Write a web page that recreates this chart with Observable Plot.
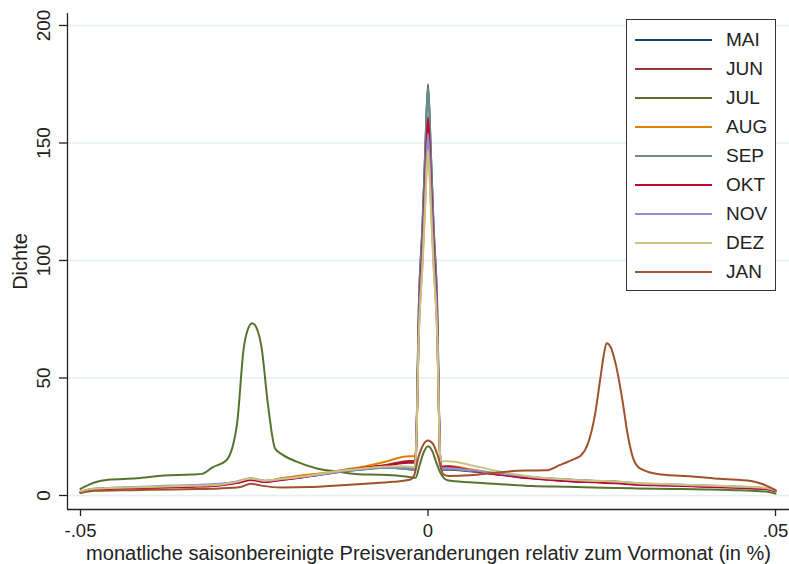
<!DOCTYPE html>
<html><head><meta charset="utf-8">
<script src="https://cdn.jsdelivr.net/npm/d3@7"></script>
<script src="https://cdn.jsdelivr.net/npm/@observablehq/plot@0.6"></script>
<style>
body{margin:0;background:#fff;font-family:"Liberation Sans",Arial,sans-serif}
#wrap{position:relative;width:789px;height:564px}
#legend{position:absolute;left:626px;top:19px;width:150px;height:272px;border:1px solid #333;background:#fff;box-sizing:border-box}
.row{position:absolute;left:0;height:0}
.row .sw{position:absolute;left:8px;width:77px;height:0;border-top:2px solid;top:-1px}
.row .lb{position:absolute;left:99px;font-size:19px;line-height:20px;top:-10px;color:#222;white-space:nowrap}
</style></head><body><div id="wrap"><div id="legend"></div></div>
<script>
// ---- data ----
const MONTHS = ["MAI","JUN","JUL","AUG","SEP","OKT","NOV","DEZ","JAN"];
const COLORS = ["#1a476f","#90353b","#55752f","#e37e00","#6e8e84","#c10534","#938dd2","#cac27e","#a0522d"];

const X_TICKS = [-0.05, 0, 0.05];
const X_TICK_LABELS = ["-.05", "0", ".05"];
const Y_TICKS = [0, 50, 100, 150, 200];
const X_DOMAIN = [-0.05187, 0.05201];
const Y_DOMAIN = [-5.96, 205.1];

const X_MAIN = [-0.05, -0.0485, -0.046, -0.042, -0.038, -0.034, -0.030, -0.0275, -0.0255, -0.0235, -0.021, -0.018, -0.015, -0.012, -0.009, -0.006, -0.0035, -0.0019,
  -0.00175, -0.0013, -0.0008, -0.0004, 0, 0.0004, 0.0008, 0.0013, 0.00175,
  0.0019, 0.003, 0.006, 0.009, 0.012, 0.015, 0.018, 0.021, 0.024, 0.027, 0.030, 0.034, 0.038, 0.042, 0.046, 0.049, 0.05];

const MAI_Y = [1.5, 2.6, 3.0, 3.3, 3.6, 3.9, 4.5, 5.6, 7.0, 6.0, 6.8, 7.8, 9.0, 10.3, 11.2, 11.8, 11.5, 11.0,
  16, 83, 115, 147, 175, 147, 115, 83, 16,
  11.0, 11.0, 10.3, 9.4, 8.5, 7.6, 7.0, 6.5, 6.1, 5.8, 5.0, 4.6, 4.2, 3.8, 3.4, 2.8, 1.9];
const JUN_Y = [1.4, 2.5, 2.9, 3.2, 3.5, 3.8, 4.4, 5.5, 6.8, 5.9, 6.9, 8.0, 9.3, 10.8, 12.0, 13.0, 14.5, 14.8,
  18, 74, 103, 132, 157, 132, 103, 74, 16,
  11.5, 11.5, 10.5, 9.3, 8.2, 7.2, 6.5, 6.0, 5.8, 5.5, 4.8, 4.4, 4.0, 3.6, 3.2, 2.6, 1.8];
const AUG_Y = [1.6, 2.7, 3.1, 3.4, 3.7, 4.0, 4.6, 5.8, 7.2, 6.2, 7.4, 8.6, 9.6, 11.0, 12.5, 14.5, 16.5, 16.8,
  19, 71, 99, 126, 150, 126, 99, 71, 16,
  12.0, 12.5, 11.2, 9.8, 8.6, 7.5, 6.8, 6.2, 5.8, 5.6, 5.0, 4.5, 4.1, 3.7, 3.3, 2.7, 1.9];
const SEP_Y = [1.5, 2.6, 3.1, 3.4, 3.7, 4.0, 4.5, 5.7, 7.1, 6.1, 6.9, 7.9, 9.1, 10.4, 11.3, 11.8, 11.4, 10.8,
  16, 82, 114, 146, 174, 146, 114, 82, 16,
  11.2, 11.2, 10.5, 9.6, 8.7, 7.8, 7.1, 6.6, 6.2, 6.0, 5.1, 4.7, 4.3, 3.9, 3.5, 2.9, 2.0];
const OKT_Y = [1.3, 2.4, 2.8, 3.1, 3.4, 3.7, 4.3, 5.3, 6.6, 5.7, 6.6, 7.8, 9.2, 10.6, 11.8, 12.8, 13.8, 14.0,
  17, 76, 106, 135, 161, 135, 106, 76, 16,
  12.5, 12.3, 10.8, 9.4, 8.3, 7.3, 6.6, 6.0, 5.6, 5.2, 4.6, 4.3, 3.9, 3.5, 3.1, 2.6, 1.8];
const NOV_Y = [1.5, 2.7, 3.2, 3.6, 4.1, 4.5, 5.0, 6.0, 7.3, 6.3, 7.0, 8.0, 9.2, 10.4, 11.4, 12.0, 12.0, 11.8,
  16, 73, 101, 129, 154, 129, 101, 73, 16,
  11.6, 11.6, 10.8, 9.8, 8.8, 7.9, 7.2, 6.7, 6.3, 6.0, 5.2, 4.8, 4.4, 4.0, 3.6, 3.0, 2.1];
const DEZ_Y = [1.6, 2.8, 3.2, 3.5, 3.8, 4.1, 4.6, 5.8, 7.2, 6.3, 7.1, 8.1, 9.4, 10.7, 11.6, 12.3, 12.4, 12.0,
  17, 70, 97, 123, 147, 123, 97, 70, 17,
  14.5, 14.6, 13.0, 11.0, 9.3, 8.0, 7.2, 6.6, 6.2, 6.0, 5.3, 4.9, 4.5, 4.1, 3.7, 3.1, 2.2];

const JUL_X = [-0.05, -0.048, -0.046, -0.042, -0.038, -0.034, -0.0325, -0.031, -0.029, -0.0275, -0.0265, -0.026, -0.0253, -0.0245, -0.024, -0.023, -0.022, -0.021, -0.019, -0.016, -0.013, -0.01, -0.007, -0.004, -0.0025, -0.0018, -0.0012, -0.0006, 0, 0.0006, 0.0012, 0.0018, 0.0028, 0.006, 0.01, 0.015, 0.02, 0.025, 0.03, 0.035, 0.04, 0.045, 0.049, 0.05];
const JUL_Y = [2.8, 5.5, 6.7, 7.3, 8.5, 8.9, 9.2, 12.0, 15, 30, 63, 70, 73.3, 70, 64, 38, 20, 17.5, 14.5, 11.5, 10.2, 9.0, 8.8, 8.3, 7.8, 7.5, 13, 18.5, 21, 19, 14, 9.5, 6.5, 5.6, 4.9, 4.0, 3.7, 3.3, 3.0, 2.8, 2.6, 2.2, 1.5, 0.8];

const JAN_X = [-0.05, -0.048, -0.044, -0.04, -0.035, -0.03, -0.027, -0.0255, -0.024, -0.021, -0.017, -0.013, -0.009, -0.005, -0.0025, -0.002, -0.0014, -0.0007, 0, 0.0007, 0.0014, 0.0022, 0.003, 0.006, 0.01, 0.014, 0.017, 0.019, 0.021, 0.022, 0.023, 0.024, 0.0248, 0.0253, 0.0257, 0.0263, 0.027, 0.028, 0.0287, 0.0295, 0.0305, 0.0335, 0.038, 0.042, 0.0465, 0.048, 0.05];
const JAN_Y = [1.0, 2.0, 2.2, 2.4, 2.7, 3.0, 3.6, 5.0, 4.2, 3.4, 3.6, 4.3, 5.0, 5.8, 6.8, 8.5, 16, 21.5, 23.4, 22, 17, 9, 8.3, 8.6, 9.8, 10.6, 10.7, 13, 15.5, 17, 22, 34, 50, 60, 64.8, 63, 56, 40, 26.4, 16, 11.5, 8.9, 8.1, 7.1, 6.2, 5.0, 2.3];

// ---- build rows ----
const SERIES = {
  MAI: [X_MAIN, MAI_Y], JUN: [X_MAIN, JUN_Y], JUL: [JUL_X, JUL_Y], AUG: [X_MAIN, AUG_Y],
  SEP: [X_MAIN, SEP_Y], OKT: [X_MAIN, OKT_Y], NOV: [X_MAIN, NOV_Y], DEZ: [X_MAIN, DEZ_Y], JAN: [JAN_X, JAN_Y]
};
const rows = [];
for (const m of MONTHS) {
  const [xs, ys] = SERIES[m];
  xs.forEach((x, i) => rows.push({month: m, x, y: ys[i]}));
}

const FONT = "Liberation Sans, Arial, sans-serif";
const chart = Plot.plot({
  width: 789, height: 564,
  marginLeft: 67, marginRight: 0, marginTop: 13, marginBottom: 55,
  style: {fontFamily: FONT, background: "white", color: "#222", overflow: "visible"},
  x: {domain: X_DOMAIN},
  y: {domain: Y_DOMAIN},
  color: {domain: MONTHS, range: COLORS},
  marks: [
    Plot.gridY(Y_TICKS, {stroke: "#e6eff0", strokeOpacity: 1, strokeWidth: 1.3}),
    Plot.line(rows, {x: "x", y: "y", z: "month", stroke: "month", strokeWidth: 2, curve: "monotone-x"}),
    Plot.ruleX([X_DOMAIN[0]], {stroke: "#222", strokeWidth: 1.3}),
    Plot.ruleY([Y_DOMAIN[0]], {stroke: "#222", strokeWidth: 1.3}),
    Plot.axisX({ticks: X_TICKS, tickSize: 7, tickFormat: () => "", label: null, stroke: "#222", strokeWidth: 1.3}),
    Plot.axisY({ticks: Y_TICKS, tickSize: 8, tickFormat: () => "", label: null, stroke: "#222", strokeWidth: 1.3}),
    Plot.text(X_TICKS, {x: d => d, frameAnchor: "bottom", text: (d, i) => X_TICK_LABELS[i], dy: 22, fontSize: 18.5, fill: "#222", lineAnchor: "middle"}),
    Plot.text(Y_TICKS, {y: d => d, frameAnchor: "left", text: d => String(d), rotate: -90, dx: -24, fontSize: 19, fill: "#222", textAnchor: "middle", lineAnchor: "middle"}),
    Plot.text(["monatliche saisonbereinigte Preisveranderungen relativ zum Vormonat (in %)"], {frameAnchor: "bottom", dy: 44, fontSize: 20, fill: "#222", textAnchor: "middle", lineAnchor: "middle"}),
    Plot.text(["Dichte"], {frameAnchor: "left", rotate: -90, dx: -47, fontSize: 20, fill: "#222", textAnchor: "middle", lineAnchor: "middle"})
  ]
});
document.getElementById("wrap").prepend(chart);

// ---- legend ----
const legend = document.getElementById("legend");
MONTHS.forEach((m, i) => {
  const r = document.createElement("div");
  r.className = "row";
  r.style.top = (19.5 + i * 29.1) + "px";
  r.innerHTML = `<div class="sw" style="border-color:${COLORS[i]}"></div><div class="lb">${m}</div>`;
  legend.appendChild(r);
});
</script></body></html>
